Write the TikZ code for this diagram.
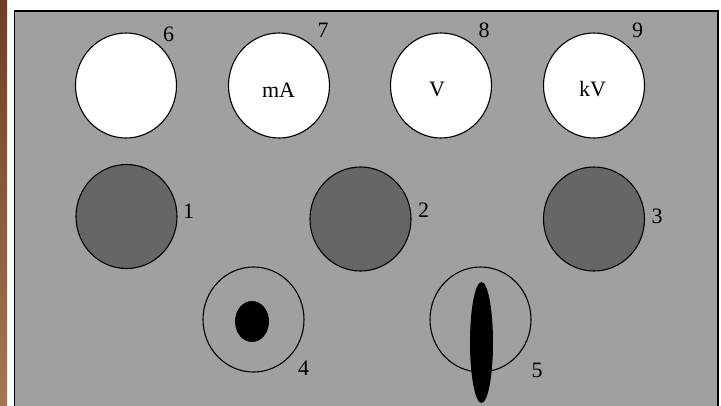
\documentclass[tikz,border=0pt]{standalone}
\usepackage{fontspec}
\setmainfont{Liberation Serif}
\usetikzlibrary{shapes.geometric}
\definecolor{panelgrey}{HTML}{A0A0A0}
\definecolor{darkknob}{HTML}{666666}
\definecolor{woodA}{HTML}{6E3F22}
\definecolor{woodB}{HTML}{A87550}
\begin{document}
\begin{tikzpicture}[x=1pt,y=-1pt,
  meter/.style={ellipse,draw=black,line width=1.1pt,fill=white,inner sep=0pt,minimum width=101pt,minimum height=105pt},
  knob/.style={ellipse,draw=black,line width=1.1pt,fill=darkknob,inner sep=0pt,minimum width=101pt,minimum height=104pt},
  ring/.style={ellipse,draw=black,line width=1.1pt,fill=panelgrey,inner sep=0pt,minimum width=101pt,minimum height=105pt},
  blob/.style={ellipse,fill=black,inner sep=0pt},
  num/.style={inner sep=0pt,font=\fontsize{22}{24}\selectfont}]
\useasboundingbox (0,0) rectangle (721,405);
\fill[white] (0,0) rectangle (721,405);
\shade[top color=woodA,bottom color=woodB] (0,0) rectangle (7,405);
\fill[panelgrey] (14.5,11) rectangle (718,406);
\draw[line width=1.6pt] (14.5,410) -- (14.5,11) -- (718,11) -- (718,410);
% meters
\node[meter] (m6) at (126,85.5) {};
\node[meter] (m7) at (279,85.5) {};
\node[meter] (m8) at (441,85.5) {};
\node[meter] (m9) at (594,85.5) {};
\node[num] (t7) at (278.5,90) {mA};
\node[num] (t8) at (437,89.5) {V};
\node[num] (t9) at (592.5,89.5) {kV};
\node[num] (l6) at (168.5,34) {6};
\node[num] (l7) at (323,30) {7};
\node[num] (l8) at (484,30) {8};
\node[num] (l9) at (637.5,30) {9};
% knobs
\node[knob] (k1) at (126.5,216.5) {};
\node[knob] (k2) at (360.5,219) {};
\node[knob] (k3) at (594,219) {};
\node[num] (l1) at (188.5,211) {1};
\node[num] (l2) at (423.5,210) {2};
\node[num] (l3) at (657,216) {3};
% switches
\node[ring] (s4) at (253.5,319.5) {};
\node[blob,minimum width=34pt,minimum height=41pt] (b4) at (252,321.5) {};
\node[ring] (s5) at (480.5,319.5) {};
\node[blob,minimum width=23pt,minimum height=121pt] (b5) at (481.5,342.5) {};
\node[num] (l4) at (303.5,368.5) {4};
\node[num] (l5) at (537,370.5) {5};
\end{tikzpicture}
\end{document}
